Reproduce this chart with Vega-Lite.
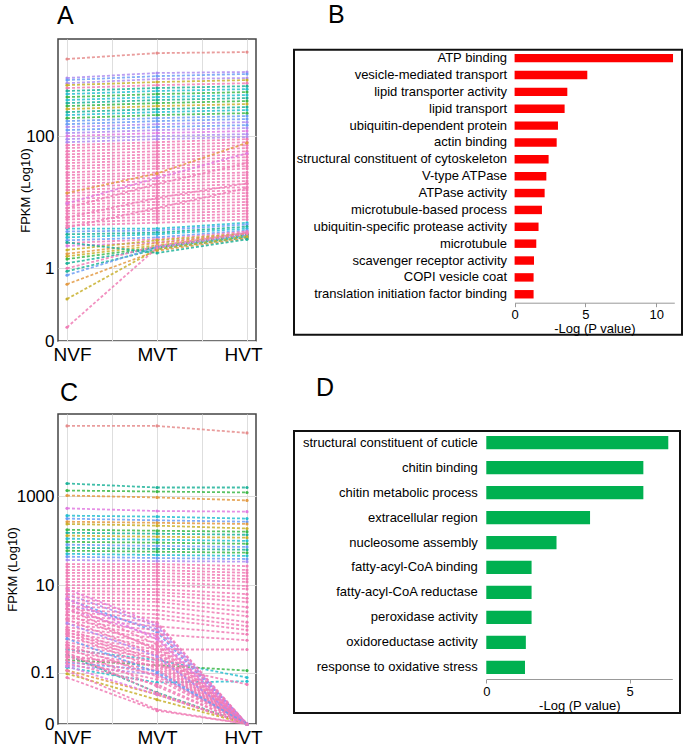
{
  "$schema": "https://vega.github.io/schema/vega-lite/v6.json",
  "padding": {"left": 5, "top": 3, "right": 0, "bottom": 0},
  "background": "white",
  "config": {
    "font": "Liberation Sans",
    "title": {"font": "Liberation Sans", "fontSize": 25, "fontWeight": "normal", "anchor": "start", "frame": "group", "baseline": "alphabetic", "color": "black"},
    "axis": {"labelFont": "Liberation Sans", "titleFont": "Liberation Sans", "labelColor": "black", "titleColor": "black", "titleFontWeight": "normal"}
  },
  "datasets": {
    "P": [{"s": "NVF", "x": 1}, {"s": "MVT", "x": 2}, {"s": "HVT", "x": 3}],
    "G": [
      {"p": "B", "term": "ATP binding", "v": 11.18},
      {"p": "B", "term": "vesicle-mediated transport", "v": 5.13},
      {"p": "B", "term": "lipid transporter activity", "v": 3.72},
      {"p": "B", "term": "lipid transport", "v": 3.53},
      {"p": "B", "term": "ubiquitin-dependent protein", "v": 3.06},
      {"p": "B", "term": "actin binding", "v": 2.97},
      {"p": "B", "term": "structural constituent of cytoskeleton", "v": 2.40},
      {"p": "B", "term": "V-type ATPase", "v": 2.24},
      {"p": "B", "term": "ATPase activity", "v": 2.12},
      {"p": "B", "term": "microtubule-based process", "v": 1.93},
      {"p": "B", "term": "ubiquitin-specific protease activity", "v": 1.69},
      {"p": "B", "term": "microtubule", "v": 1.53},
      {"p": "B", "term": "scavenger receptor activity", "v": 1.37},
      {"p": "B", "term": "COPI vesicle coat", "v": 1.34},
      {"p": "B", "term": "translation initiation factor binding", "v": 1.34},
      {"p": "D", "term": "structural constituent of cuticle", "v": 6.35},
      {"p": "D", "term": "chitin binding", "v": 5.48},
      {"p": "D", "term": "chitin metabolic process", "v": 5.48},
      {"p": "D", "term": "extracellular region", "v": 3.62},
      {"p": "D", "term": "nucleosome assembly", "v": 2.45},
      {"p": "D", "term": "fatty-acyl-CoA binding", "v": 1.58},
      {"p": "D", "term": "fatty-acyl-CoA reductase", "v": 1.58},
      {"p": "D", "term": "peroxidase activity", "v": 1.58},
      {"p": "D", "term": "oxidoreductase activity", "v": 1.38},
      {"p": "D", "term": "response to oxidative stress", "v": 1.35}
    ],
    "L": [
      {"p": "A", "id": "a1", "k": "sa", "NVF": 1420, "MVT": 1740, "HVT": 1800},
      {"p": "A", "id": "a2", "k": "pu", "NVF": 740, "MVT": 880, "HVT": 910},
      {"p": "A", "id": "a3", "k": "bl", "NVF": 690, "MVT": 790, "HVT": 850},
      {"p": "A", "id": "a4", "k": "pu", "NVF": 620, "MVT": 715, "HVT": 740},
      {"p": "A", "id": "a5", "k": "ol", "NVF": 580, "MVT": 645, "HVT": 690},
      {"p": "A", "id": "a6", "k": "pk", "NVF": 525, "MVT": 580, "HVT": 620},
      {"p": "A", "id": "a7", "k": "tl", "NVF": 475, "MVT": 525, "HVT": 560},
      {"p": "A", "id": "a8", "k": "cy", "NVF": 427, "MVT": 475, "HVT": 505},
      {"p": "A", "id": "a9", "k": "gr", "NVF": 385, "MVT": 427, "HVT": 457},
      {"p": "A", "id": "a10", "k": "cy", "NVF": 348, "MVT": 385, "HVT": 413},
      {"p": "A", "id": "a11", "k": "tl", "NVF": 313, "MVT": 348, "HVT": 372},
      {"p": "A", "id": "a12", "k": "gr", "NVF": 283, "MVT": 313, "HVT": 336},
      {"p": "A", "id": "a13", "k": "ol", "NVF": 255, "MVT": 283, "HVT": 303},
      {"p": "A", "id": "a14", "k": "tl", "NVF": 230, "MVT": 255, "HVT": 273},
      {"p": "A", "id": "a15", "k": "cy", "NVF": 208, "MVT": 230, "HVT": 247},
      {"p": "A", "id": "a16", "k": "gr", "NVF": 187, "MVT": 208, "HVT": 222},
      {"p": "A", "id": "a17", "k": "bl", "NVF": 169, "MVT": 187, "HVT": 201},
      {"p": "A", "id": "a18", "k": "bl", "NVF": 152, "MVT": 169, "HVT": 181},
      {"p": "A", "id": "a19", "k": "pu", "NVF": 138, "MVT": 152, "HVT": 163},
      {"p": "A", "id": "a20", "k": "bl", "NVF": 124, "MVT": 138, "HVT": 147},
      {"p": "A", "id": "a21", "k": "pu", "NVF": 112, "MVT": 124, "HVT": 133},
      {"p": "A", "id": "a22", "k": "mg", "NVF": 101, "MVT": 112, "HVT": 120},
      {"p": "A", "id": "a23", "k": "pu", "NVF": 91, "MVT": 101, "HVT": 108},
      {"p": "A", "id": "a24", "k": "pu", "NVF": 82, "MVT": 91, "HVT": 98},
      {"p": "A", "id": "a25", "k": "cy", "NVF": 4.15, "MVT": 4.15, "HVT": 5.1},
      {"p": "A", "id": "a26", "k": "bl", "NVF": 3.75, "MVT": 3.9, "HVT": 4.8},
      {"p": "A", "id": "a27", "k": "tl", "NVF": 3.4, "MVT": 3.6, "HVT": 4.45},
      {"p": "A", "id": "a28", "k": "cy", "NVF": 3.05, "MVT": 3.4, "HVT": 4.15},
      {"p": "A", "id": "a29", "k": "bl", "NVF": 2.75, "MVT": 3.05, "HVT": 3.9},
      {"p": "A", "id": "a30", "k": "pk", "NVF": 2.5, "MVT": 2.85, "HVT": 3.75},
      {"p": "A", "id": "a31", "k": "mg", "NVF": 2.25, "MVT": 2.55, "HVT": 3.6},
      {"p": "A", "id": "a32", "k": "ol", "NVF": 1.95, "MVT": 2.75, "HVT": 3.5},
      {"p": "A", "id": "a33", "k": "or", "NVF": 1.7, "MVT": 2.5, "HVT": 3.4},
      {"p": "A", "id": "a34", "k": "ol", "NVF": 1.55, "MVT": 2.3, "HVT": 3.3},
      {"p": "A", "id": "a35", "k": "gr", "NVF": 1.4, "MVT": 2.15, "HVT": 3.4},
      {"p": "A", "id": "a36", "k": "tl", "NVF": 1.2, "MVT": 2.1, "HVT": 3.15},
      {"p": "A", "id": "a37", "k": "pk", "NVF": 1.0, "MVT": 2.25, "HVT": 3.6},
      {"p": "A", "id": "a38", "k": "tl", "NVF": 0.894, "MVT": 2.0, "HVT": 3.05},
      {"p": "A", "id": "a39", "k": "bl", "NVF": 0.77, "MVT": 2.15, "HVT": 3.3},
      {"p": "A", "id": "a40", "k": "or", "NVF": 0.54, "MVT": 1.9, "HVT": 2.95},
      {"p": "A", "id": "a41", "k": "ol", "NVF": 0.29, "MVT": 2.0, "HVT": 3.15},
      {"p": "A", "id": "a42", "k": "pk", "NVF": 0.054, "MVT": 2.1, "HVT": 3.5},
      {"p": "A", "id": "a43", "k": "tl", "NVF": 2.55, "MVT": 1.75, "HVT": 2.85},
      {"p": "A", "id": "a44", "k": "pk", "NVF": 74, "MVT": 82, "HVT": 91},
      {"p": "A", "id": "a45", "k": "pk", "NVF": 67, "MVT": 74, "HVT": 82},
      {"p": "A", "id": "a46", "k": "pk", "NVF": 60, "MVT": 67, "HVT": 74},
      {"p": "A", "id": "a47", "k": "pk", "NVF": 54, "MVT": 60, "HVT": 67},
      {"p": "A", "id": "a48", "k": "pk", "NVF": 49, "MVT": 54, "HVT": 60},
      {"p": "A", "id": "a49", "k": "pk", "NVF": 44, "MVT": 49, "HVT": 54},
      {"p": "A", "id": "a50", "k": "pk", "NVF": 40, "MVT": 44, "HVT": 49},
      {"p": "A", "id": "a51", "k": "pk", "NVF": 36, "MVT": 40, "HVT": 44},
      {"p": "A", "id": "a52", "k": "pk", "NVF": 33, "MVT": 36, "HVT": 40},
      {"p": "A", "id": "a53", "k": "pk", "NVF": 29, "MVT": 33, "HVT": 36},
      {"p": "A", "id": "a54", "k": "pk", "NVF": 26.5, "MVT": 29, "HVT": 33},
      {"p": "A", "id": "a55", "k": "pk", "NVF": 24, "MVT": 26.5, "HVT": 29},
      {"p": "A", "id": "a56", "k": "pk", "NVF": 21.6, "MVT": 24, "HVT": 26.5},
      {"p": "A", "id": "a57", "k": "pk", "NVF": 19.5, "MVT": 21.6, "HVT": 24},
      {"p": "A", "id": "a58", "k": "pk", "NVF": 17.5, "MVT": 19.5, "HVT": 21.6},
      {"p": "A", "id": "a59", "k": "pk", "NVF": 15.8, "MVT": 17.5, "HVT": 19.5},
      {"p": "A", "id": "a60", "k": "pk", "NVF": 14.3, "MVT": 15.8, "HVT": 17.5},
      {"p": "A", "id": "a61", "k": "pk", "NVF": 12.9, "MVT": 14.3, "HVT": 15.8},
      {"p": "A", "id": "a62", "k": "pk", "NVF": 11.6, "MVT": 12.9, "HVT": 14.3},
      {"p": "A", "id": "a63", "k": "pk", "NVF": 10.5, "MVT": 11.6, "HVT": 12.9},
      {"p": "A", "id": "a64", "k": "pk", "NVF": 9.5, "MVT": 10.5, "HVT": 11.6},
      {"p": "A", "id": "a65", "k": "pk", "NVF": 8.5, "MVT": 9.5, "HVT": 10.5},
      {"p": "A", "id": "a66", "k": "pk", "NVF": 7.7, "MVT": 8.5, "HVT": 9.5},
      {"p": "A", "id": "a67", "k": "pk", "NVF": 7.0, "MVT": 7.7, "HVT": 8.5},
      {"p": "A", "id": "a68", "k": "pk", "NVF": 6.3, "MVT": 7.0, "HVT": 7.7},
      {"p": "A", "id": "a69", "k": "pk", "NVF": 5.7, "MVT": 6.3, "HVT": 7.0},
      {"p": "A", "id": "a70", "k": "pk", "NVF": 5.1, "MVT": 5.7, "HVT": 6.3},
      {"p": "A", "id": "a71", "k": "pk", "NVF": 4.6, "MVT": 5.1, "HVT": 5.7},
      {"p": "A", "id": "a72", "k": "pk", "NVF": 6.1, "MVT": 12, "HVT": 20},
      {"p": "A", "id": "a73", "k": "pk", "NVF": 8.5, "MVT": 19.5, "HVT": 40},
      {"p": "A", "id": "a74", "k": "mg", "NVF": 10, "MVT": 24, "HVT": 56},
      {"p": "A", "id": "a75", "k": "or", "NVF": 14.3, "MVT": 28, "HVT": 80},
      {"p": "A", "id": "a76", "k": "pk", "NVF": 4.3, "MVT": 8.5, "HVT": 17},
      {"p": "C", "id": "c1", "k": "sa", "NVF": 38800, "MVT": 38800, "HVT": 27000},
      {"p": "C", "id": "c2", "k": "tl", "NVF": 1960, "MVT": 1590, "HVT": 1590},
      {"p": "C", "id": "c3", "k": "gr", "NVF": 1360, "MVT": 1290, "HVT": 1230},
      {"p": "C", "id": "c4", "k": "or", "NVF": 1050, "MVT": 950, "HVT": 815},
      {"p": "C", "id": "c5", "k": "mg", "NVF": 540, "MVT": 470, "HVT": 455},
      {"p": "C", "id": "c6", "k": "cy", "NVF": 370, "MVT": 350, "HVT": 317},
      {"p": "C", "id": "c7", "k": "bl", "NVF": 317, "MVT": 290, "HVT": 270},
      {"p": "C", "id": "c8", "k": "or", "NVF": 270, "MVT": 255, "HVT": 240},
      {"p": "C", "id": "c9", "k": "ol", "NVF": 240, "MVT": 220, "HVT": 190},
      {"p": "C", "id": "c10", "k": "gr", "NVF": 178, "MVT": 169, "HVT": 161},
      {"p": "C", "id": "c11", "k": "tl", "NVF": 152, "MVT": 145, "HVT": 137},
      {"p": "C", "id": "c12", "k": "ol", "NVF": 131, "MVT": 124, "HVT": 118},
      {"p": "C", "id": "c13", "k": "cy", "NVF": 112, "MVT": 106, "HVT": 100},
      {"p": "C", "id": "c14", "k": "gr", "NVF": 95, "MVT": 91, "HVT": 86},
      {"p": "C", "id": "c15", "k": "bl", "NVF": 82, "MVT": 77, "HVT": 73},
      {"p": "C", "id": "c16", "k": "tl", "NVF": 70, "MVT": 66, "HVT": 63},
      {"p": "C", "id": "c17", "k": "gr", "NVF": 60, "MVT": 57, "HVT": 54},
      {"p": "C", "id": "c18", "k": "cy", "NVF": 51, "MVT": 48, "HVT": 46},
      {"p": "C", "id": "c19", "k": "bl", "NVF": 44, "MVT": 41, "HVT": 39},
      {"p": "C", "id": "c20", "k": "pu", "NVF": 37, "MVT": 35, "HVT": 34},
      {"p": "C", "id": "c21", "k": "cy", "NVF": 0.35, "MVT": 0.2, "HVT": 0.076},
      {"p": "C", "id": "c22", "k": "tl", "NVF": 0.263, "MVT": 0.031, "HVT": 0},
      {"p": "C", "id": "c23", "k": "gr", "NVF": 0.2, "MVT": 0.15, "HVT": 0.112},
      {"p": "C", "id": "c24", "k": "bl", "NVF": 0.176, "MVT": 0.112, "HVT": 0},
      {"p": "C", "id": "c25", "k": "pu", "NVF": 0.15, "MVT": 0.091, "HVT": 0},
      {"p": "C", "id": "c26", "k": "cy", "NVF": 0.134, "MVT": 0.057, "HVT": 0.061},
      {"p": "C", "id": "c27", "k": "or", "NVF": 0.114, "MVT": 0.027, "HVT": 0},
      {"p": "C", "id": "c28", "k": "ol", "NVF": 0.094, "MVT": 0.019, "HVT": 0},
      {"p": "C", "id": "c29", "k": "pu", "NVF": 3.76, "MVT": 1.02, "HVT": 0},
      {"p": "C", "id": "c30", "k": "pu", "NVF": 6.3, "MVT": 1.19, "HVT": 0},
      {"p": "C", "id": "c31", "k": "bl", "NVF": 4.9, "MVT": 0.87, "HVT": 0},
      {"p": "C", "id": "c32", "k": "mg", "NVF": 8.2, "MVT": 1.33, "HVT": 0},
      {"p": "C", "id": "c33", "k": "mg", "NVF": 2.9, "MVT": 0.705, "HVT": 0},
      {"p": "C", "id": "c34", "k": "pk", "NVF": 30, "MVT": 30, "HVT": 27},
      {"p": "C", "id": "c35", "k": "pk", "NVF": 26, "MVT": 26, "HVT": 22},
      {"p": "C", "id": "c36", "k": "pk", "NVF": 22, "MVT": 22, "HVT": 19},
      {"p": "C", "id": "c37", "k": "pk", "NVF": 19, "MVT": 19, "HVT": 16.2},
      {"p": "C", "id": "c38", "k": "pk", "NVF": 16.2, "MVT": 16.2, "HVT": 13.8},
      {"p": "C", "id": "c39", "k": "pk", "NVF": 13.8, "MVT": 13.8, "HVT": 11.9},
      {"p": "C", "id": "c40", "k": "pk", "NVF": 11.9, "MVT": 11.9, "HVT": 9.6},
      {"p": "C", "id": "c41", "k": "pk", "NVF": 10.1, "MVT": 10.1, "HVT": 8.2},
      {"p": "C", "id": "c42", "k": "pk", "NVF": 8.7, "MVT": 8.2, "HVT": 6.3},
      {"p": "C", "id": "c43", "k": "pk", "NVF": 7.4, "MVT": 7.0, "HVT": 5.1},
      {"p": "C", "id": "c44", "k": "pk", "NVF": 6.3, "MVT": 6.0, "HVT": 4.2},
      {"p": "C", "id": "c45", "k": "pk", "NVF": 5.4, "MVT": 4.9, "HVT": 3.2},
      {"p": "C", "id": "c46", "k": "pk", "NVF": 4.6, "MVT": 4.2, "HVT": 2.5},
      {"p": "C", "id": "c47", "k": "pk", "NVF": 4.0, "MVT": 3.4, "HVT": 2.0},
      {"p": "C", "id": "c48", "k": "pk", "NVF": 3.4, "MVT": 2.75, "HVT": 1.47},
      {"p": "C", "id": "c49", "k": "pk", "NVF": 2.9, "MVT": 2.2, "HVT": 1.19},
      {"p": "C", "id": "c50", "k": "pk", "NVF": 2.5, "MVT": 1.8, "HVT": 0.97},
      {"p": "C", "id": "c51", "k": "pk", "NVF": 2.1, "MVT": 1.47, "HVT": 0},
      {"p": "C", "id": "c52", "k": "pk", "NVF": 1.8, "MVT": 1.19, "HVT": 0.78},
      {"p": "C", "id": "c53", "k": "pk", "NVF": 1.55, "MVT": 0.97, "HVT": 0},
      {"p": "C", "id": "c54", "k": "pk", "NVF": 1.33, "MVT": 0.78, "HVT": 0.57},
      {"p": "C", "id": "c55", "k": "pk", "NVF": 1.13, "MVT": 0.635, "HVT": 0},
      {"p": "C", "id": "c56", "k": "pk", "NVF": 0.97, "MVT": 0.51, "HVT": 0},
      {"p": "C", "id": "c57", "k": "pk", "NVF": 0.825, "MVT": 0.42, "HVT": 0},
      {"p": "C", "id": "c58", "k": "pk", "NVF": 0.705, "MVT": 0.35, "HVT": 0.35},
      {"p": "C", "id": "c59", "k": "pk", "NVF": 0.6, "MVT": 0.3, "HVT": 0},
      {"p": "C", "id": "c60", "k": "pk", "NVF": 0.51, "MVT": 0.257, "HVT": 0},
      {"p": "C", "id": "c61", "k": "pk", "NVF": 0.44, "MVT": 0.22, "HVT": 0},
      {"p": "C", "id": "c62", "k": "pk", "NVF": 0.37, "MVT": 0.176, "HVT": 0},
      {"p": "C", "id": "c63", "k": "pk", "NVF": 0.32, "MVT": 0.142, "HVT": 0},
      {"p": "C", "id": "c64", "k": "pk", "NVF": 0.263, "MVT": 0.114, "HVT": 0},
      {"p": "C", "id": "c65", "k": "pk", "NVF": 0.23, "MVT": 0.091, "HVT": 0},
      {"p": "C", "id": "c66", "k": "pk", "NVF": 0.196, "MVT": 0.068, "HVT": 0},
      {"p": "C", "id": "c67", "k": "pk", "NVF": 0.167, "MVT": 0.051, "HVT": 0},
      {"p": "C", "id": "c68", "k": "mg", "NVF": 0.142, "MVT": 0.027, "HVT": 0},
      {"p": "C", "id": "c69", "k": "pk", "NVF": 0.112, "MVT": 0.0083, "HVT": 0},
      {"p": "C", "id": "c70", "k": "pk", "NVF": 0.076, "MVT": 0.0075, "HVT": 0},
      {"p": "C", "id": "c71", "k": "pk", "NVF": 3.76, "MVT": 0.455, "HVT": 0},
      {"p": "C", "id": "c72", "k": "pk", "NVF": 2.2, "MVT": 0.37, "HVT": 0},
      {"p": "C", "id": "c73", "k": "pk", "NVF": 1.7, "MVT": 0.263, "HVT": 0},
      {"p": "C", "id": "c74", "k": "pk", "NVF": 1.02, "MVT": 0.196, "HVT": 0},
      {"p": "C", "id": "c75", "k": "pk", "NVF": 0.78, "MVT": 0.125, "HVT": 0},
      {"p": "C", "id": "c76", "k": "pk", "NVF": 0.455, "MVT": 0.08, "HVT": 0},
      {"p": "C", "id": "c77", "k": "pk", "NVF": 0.3, "MVT": 0.03, "HVT": 0},
      {"p": "C", "id": "c78", "k": "pk", "NVF": 0.24, "MVT": 0.15, "HVT": 0.051},
      {"p": "C", "id": "c79", "k": "mg", "NVF": 5.0, "MVT": 0.6, "HVT": 0},
      {"p": "C", "id": "c80", "k": "pk", "NVF": 3.0, "MVT": 0.33, "HVT": 0},
      {"p": "C", "id": "c81", "k": "pu", "NVF": 1.4, "MVT": 0.24, "HVT": 0},
      {"p": "C", "id": "c82", "k": "pk", "NVF": 0.9, "MVT": 0.16, "HVT": 0},
      {"p": "C", "id": "c83", "k": "bl", "NVF": 0.62, "MVT": 0.1, "HVT": 0},
      {"p": "C", "id": "c84", "k": "pk", "NVF": 0.4, "MVT": 0.045, "HVT": 0}
    ]
  },
  "spacing": 30,
  "hconcat": [
    {
      "spacing": 15,
      "vconcat": [
        {
          "width": 198, "height": 302,
          "title": {"text": "A", "offset": 10, "dx": -1},
          "view": {"stroke": "#444", "strokeWidth": 1.5},
          "data": {"name": "L"},
          "transform": [
            {"filter": "datum.p === 'A'"},
            {"fold": ["NVF", "MVT", "HVT"], "as": ["s", "v"]},
            {"lookup": "s", "from": {"data": {"name": "P"}, "key": "s", "fields": ["x"]}}
          ],
          "encoding": {
            "x": {"field": "x", "type": "quantitative", "scale": {"domain": [0.9, 3.1], "nice": false, "zero": false},
              "axis": {"values": [1, 1.5, 2, 2.5, 3], "labelExpr": "datum.value==1?'NVF':datum.value==2?'MVT':datum.value==3?'HVT':''", "labelOffset": {"condition": [{"test": "datum.value == 1", "value": 5}, {"test": "datum.value == 3", "value": -4}], "value": 0}, "title": null, "domain": false, "ticks": false, "labelFontSize": 19, "labelPadding": 4, "grid": true, "gridColor": "#dedede", "labelFlush": false, "labelOverlap": false}},
            "y": {"field": "v", "type": "quantitative", "title": "FPKM (Log10)", "scale": {"type": "symlog", "constant": 0.09, "domain": [0, 2820], "nice": false},
              "axis": {"values": [0, 1, 100], "format": "~r", "labelFontSize": 17, "labelPadding": 4, "ticks": false, "domain": false, "grid": true, "gridColor": "#dedede", "titleFontSize": 13, "titleX": -26, "labelFlush": false, "labelOverlap": false}},
            "color": {"field": "k", "type": "nominal", "legend": null,
              "scale": {"domain": ["pk", "mg", "pu", "bl", "cy", "tl", "gr", "ol", "or", "sa"], "range": ["#F07DB5", "#E07BE0", "#AE8CF0", "#6C9EF5", "#28BFD0", "#1FB39A", "#3DB84A", "#C8B02E", "#E39A43", "#E58C8C"]}},
            "detail": {"field": "id"}
          },
          "layer": [
            {"mark": {"type": "line", "strokeDash": [3, 2], "strokeWidth": 1.8, "opacity": 0.85}},
            {"mark": {"type": "point", "filled": true, "size": 10, "opacity": 1, "shape": "circle"}}
          ]
        },
        {
          "width": 198, "height": 310,
          "title": {"text": "C", "offset": 8, "dx": 2},
          "view": {"stroke": "#444", "strokeWidth": 1.5},
          "data": {"name": "L"},
          "transform": [
            {"filter": "datum.p === 'C'"},
            {"fold": ["NVF", "MVT", "HVT"], "as": ["s", "v"]},
            {"lookup": "s", "from": {"data": {"name": "P"}, "key": "s", "fields": ["x"]}}
          ],
          "encoding": {
            "x": {"field": "x", "type": "quantitative", "scale": {"domain": [0.9, 3.1], "nice": false, "zero": false},
              "axis": {"values": [1, 1.5, 2, 2.5, 3], "labelExpr": "datum.value==1?'NVF':datum.value==2?'MVT':datum.value==3?'HVT':''", "labelOffset": {"condition": [{"test": "datum.value == 1", "value": 5}, {"test": "datum.value == 3", "value": -4}], "value": 0}, "title": null, "domain": false, "ticks": false, "labelFontSize": 19, "labelPadding": 4, "grid": true, "gridColor": "#dedede", "labelFlush": false, "labelOverlap": false}},
            "y": {"field": "v", "type": "quantitative", "title": "FPKM (Log10)", "scale": {"type": "symlog", "constant": 0.0075, "domain": [0, 72000], "nice": false},
              "axis": {"values": [0, 0.1, 10, 1000], "format": "~r", "labelFontSize": 17, "labelPadding": 4, "ticks": false, "domain": false, "grid": true, "gridColor": "#dedede", "titleFontSize": 13, "titleX": -38.5, "labelFlush": false, "labelOverlap": false}},
            "color": {"field": "k", "type": "nominal", "legend": null,
              "scale": {"domain": ["pk", "mg", "pu", "bl", "cy", "tl", "gr", "ol", "or", "sa"], "range": ["#F07DB5", "#E07BE0", "#AE8CF0", "#6C9EF5", "#28BFD0", "#1FB39A", "#3DB84A", "#C8B02E", "#E39A43", "#E58C8C"]}},
            "detail": {"field": "id"}
          },
          "layer": [
            {"mark": {"type": "line", "strokeDash": [3, 2], "strokeWidth": 1.8, "opacity": 0.85}},
            {"mark": {"type": "point", "filled": true, "size": 10, "opacity": 1, "shape": "circle"}}
          ]
        }
      ]
    },
    {
      "spacing": 38,
      "vconcat": [
        {
          "spacing": 8.7,
          "vconcat": [
            {
              "width": 388, "height": 1,
              "title": {"text": "B", "offset": 11, "dx": 34},
              "view": {"stroke": null},
              "data": {"values": []},
              "mark": {"type": "point", "opacity": 0}
            },
            {
              "width": 388, "height": 285,
              "view": {"stroke": "#111", "strokeWidth": 2},
              "data": {"name": "G"},
              "transform": [{"filter": "datum.p === 'B'"}],
              "mark": {"type": "bar", "color": "#FF0000"},
              "encoding": {
                "y": {"field": "term", "type": "nominal", "sort": null, "title": null,
                  "scale": {"range": [0, 253], "paddingInner": 0.5, "paddingOuter": 0.25},
                  "axis": {"offset": -220.6, "ticks": false, "domain": false, "labelPadding": 8, "labelFontSize": 13, "labelLimit": 400}},
                "x": {"field": "v", "type": "quantitative", "title": "-Log (P value)",
                  "scale": {"domain": [0, 11.27], "range": [220.6, 380.3], "nice": false, "zero": false},
                  "axis": {"values": [0, 5, 10], "offset": -32, "grid": false, "domainColor": "#999", "tickColor": "#999", "tickSize": 4, "labelFontSize": 13, "labelPadding": 2, "titleFontSize": 13, "titlePadding": 1, "labelFlush": false}}
              }
            }
          ]
        },
        {
          "width": 386, "height": 282,
          "title": {"text": "D", "offset": 29.7, "dx": 22},
          "view": {"stroke": "#111", "strokeWidth": 2},
          "data": {"name": "G"},
          "transform": [{"filter": "datum.p === 'D'"}],
          "mark": {"type": "bar", "color": "#00B050"},
          "encoding": {
            "y": {"field": "term", "type": "nominal", "sort": null, "title": null,
              "scale": {"range": [0, 248], "paddingInner": 0.47, "paddingOuter": 0.2},
              "axis": {"offset": -192.3, "ticks": false, "domain": false, "labelPadding": 9, "labelFontSize": 13, "labelLimit": 400}},
            "x": {"field": "v", "type": "quantitative", "title": "-Log (P value)",
              "scale": {"domain": [0, 6.49], "range": [192.3, 378.3], "nice": false, "zero": false},
              "axis": {"values": [0, 5], "offset": -34, "grid": false, "domainColor": "#999", "tickColor": "#999", "tickSize": 4, "labelFontSize": 13, "labelPadding": 2, "titleFontSize": 13, "titlePadding": 1, "labelFlush": false}}
          }
        }
      ]
    }
  ]
}
